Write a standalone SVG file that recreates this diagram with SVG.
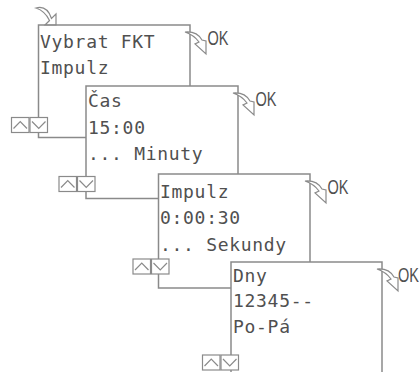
<svg xmlns="http://www.w3.org/2000/svg" width="419" height="372" viewBox="0 0 419 372">
<defs>
<style>
.ln{fill:none;stroke:#8a8a8a;stroke-width:1.5}
.bt{fill:#fff;stroke:#8a8a8a;stroke-width:1.2}
.ch{fill:none;stroke:#8a8a8a;stroke-width:1.2}
.tx{font-family:"DejaVu Sans Mono","Liberation Mono",monospace;font-size:18px;letter-spacing:0.7px;fill:#505050}
.ok{font-family:"Liberation Sans","DejaVu Sans",sans-serif;font-size:20px;fill:#505050}
.ar{fill:#fff;stroke:#8a8a8a;stroke-width:1.2;stroke-linejoin:miter}
</style>
<path id="okarrow" class="ar" d="M0,0 Q12,-1 17,8 L21,9 L21,22 L10,12 L14,10 Q9,3 0,0 Z"/>
<g id="btns">
<rect class="bt" x="0" y="0" width="17.5" height="15"/>
<polyline class="ch" points="2,11 8.75,4 15.5,11"/>
<rect class="bt" x="18.5" y="0" width="17.5" height="15"/>
<polyline class="ch" points="20.5,4 27.25,11 34,4"/>
</g>
</defs>
<g id="connectors">
<path id="start-arrow" class="ar" d="M36,8 Q47,5 51.5,18.5 L56,14 L56,25 L45,25 L49.5,20.5 Q45,11 36,8 Z"/>
</g>
<g id="box1">
<polyline class="ln" points="86,137.5 38.5,137.5 38.5,25 190,25 190,86"/>
<text class="tx" x="40" y="47.5">Vybrat FKT</text>
<text class="tx" x="40" y="73.5">Impulz</text>
<use href="#btns" x="11.5" y="117.5"/>
<use href="#okarrow" x="185" y="32"/>
<text class="ok" x="207.5" y="45" textLength="21" lengthAdjust="spacingAndGlyphs">OK</text>
</g>
<g id="box2">
<polyline class="ln" points="158.5,198.5 86,198.5 86,86 238,86 238,174"/>
<text class="tx" x="88" y="107">Čas</text>
<text class="tx" x="88" y="133.5">15:00</text>
<text class="tx" x="88" y="160">... Minuty</text>
<use href="#btns" x="59" y="176.5"/>
<use href="#okarrow" x="233" y="93"/>
<text class="ok" x="255.5" y="106" textLength="21" lengthAdjust="spacingAndGlyphs">OK</text>
</g>
<g id="box3">
<polyline class="ln" points="231,288 158.5,288 158.5,174 310,174 310,262"/>
<text class="tx" x="160" y="197.5">Impulz</text>
<text class="tx" x="160" y="224">0:00:30</text>
<text class="tx" x="160" y="250.5">... Sekundy</text>
<use href="#btns" x="133" y="259"/>
<use href="#okarrow" x="305" y="181"/>
<text class="ok" x="327.5" y="194" textLength="21" lengthAdjust="spacingAndGlyphs">OK</text>
</g>
<g id="box4">
<polyline class="ln" points="231,372 231,262 382,262 382,372"/>
<text class="tx" x="233" y="281.5">Dny</text>
<text class="tx" x="233" y="307">12345--</text>
<text class="tx" x="233" y="333">Po-Pá</text>
<use href="#btns" x="202.5" y="355"/>
<use href="#okarrow" x="377" y="269"/>
<text class="ok" x="398" y="282" textLength="21" lengthAdjust="spacingAndGlyphs">OK</text>
</g>
</svg>
